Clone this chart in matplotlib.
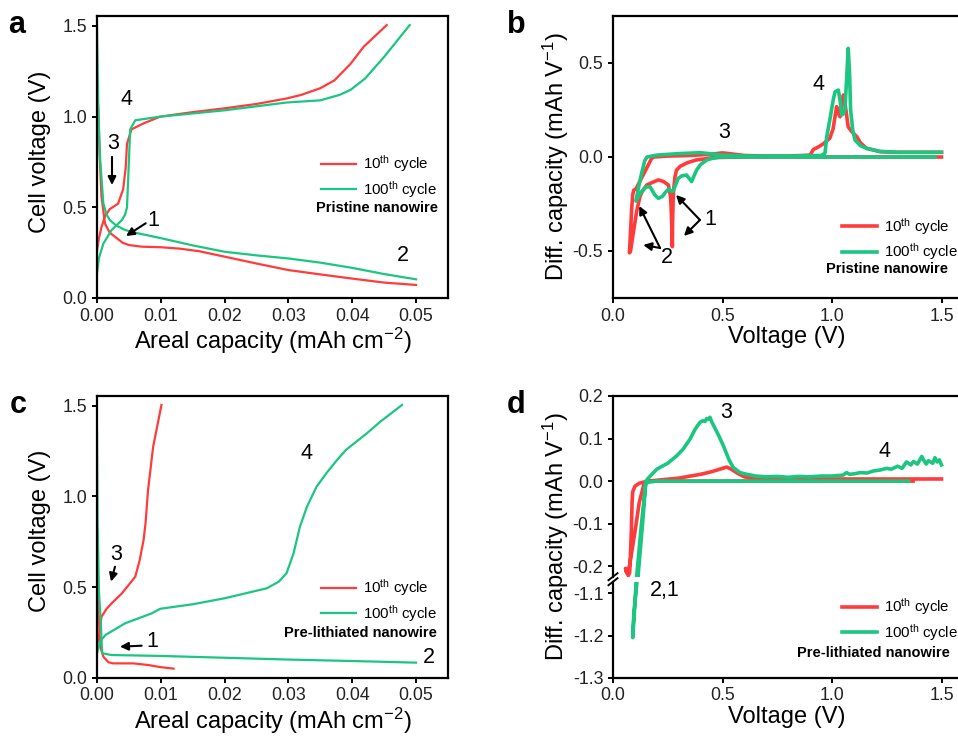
import matplotlib
matplotlib.use("Agg")
import matplotlib.pyplot as plt

plt.rcParams['font.family'] = ['Liberation Sans', 'DejaVu Sans']
plt.rcParams['mathtext.fontset'] = 'custom'
plt.rcParams['mathtext.rm'] = 'Liberation Sans'
plt.rcParams['mathtext.it'] = 'Liberation Sans:italic'
plt.rcParams['mathtext.bf'] = 'Liberation Sans:bold'
plt.rcParams['axes.unicode_minus'] = False

RED = '#FF3B3B'
GREEN = '#1BC680'

# ---------------- Panel a (pristine, voltage profiles) ----------------
a_red_dis_x = [0, 0.0002, 0.0004, 0.0007, 0.00125, 0.002, 0.0028, 0.004, 0.005, 0.007, 0.01, 0.013,
               0.016, 0.02, 0.025, 0.03, 0.035, 0.04, 0.045, 0.05]
a_red_dis_y = [1.17, 1.04, 0.80, 0.56, 0.41, 0.36, 0.338, 0.305, 0.292, 0.283, 0.28, 0.272,
               0.258, 0.228, 0.19, 0.154, 0.13, 0.107, 0.085, 0.072]
a_red_chg_x = [0, 0.0003, 0.0007, 0.00125, 0.002, 0.0033, 0.0041, 0.0045, 0.0047, 0.0054, 0.0073,
               0.0099, 0.015, 0.02, 0.025, 0.0297, 0.032, 0.035, 0.0372, 0.0397, 0.0418, 0.0454]
a_red_chg_y = [0.26, 0.33, 0.39, 0.45, 0.49, 0.52, 0.60, 0.72, 0.85, 0.93, 0.963,
               1.0, 1.025, 1.046, 1.07, 1.10, 1.12, 1.157, 1.20, 1.29, 1.386, 1.505]
a_grn_dis_x = [0, 0.0002, 0.0005, 0.001, 0.0015, 0.002, 0.003, 0.0044, 0.006, 0.008, 0.01, 0.015,
               0.02, 0.025, 0.03, 0.035, 0.04, 0.045, 0.05]
a_grn_dis_y = [1.49, 1.04, 0.76, 0.52, 0.46, 0.43, 0.40, 0.375, 0.36, 0.345, 0.33, 0.29,
               0.255, 0.235, 0.218, 0.195, 0.166, 0.132, 0.103]
a_grn_chg_x = [0, 0.0003, 0.001, 0.0023, 0.0039, 0.0044, 0.0047, 0.0049, 0.0052, 0.006, 0.0099,
               0.02, 0.0297, 0.035, 0.038, 0.0397, 0.042, 0.045, 0.049]
a_grn_chg_y = [0.136, 0.22, 0.30, 0.375, 0.43, 0.46, 0.50, 0.67, 0.93, 0.98, 1.0,
               1.035, 1.078, 1.09, 1.12, 1.147, 1.21, 1.33, 1.505]

# ---------------- Panel c (pre-lithiated, voltage profiles) ----------------
c_red_dis_x = [0, 0.0002, 0.0005, 0.001, 0.0018, 0.0025, 0.0057, 0.008, 0.01, 0.012]
c_red_dis_y = [0.557, 0.40, 0.171, 0.116, 0.085, 0.079, 0.079, 0.07, 0.058, 0.05]
c_red_chg_x = [0, 0.0002, 0.0007, 0.0015, 0.0023, 0.0039, 0.006, 0.0067, 0.0073, 0.0076, 0.0080,
               0.0088, 0.0094, 0.0101]
c_red_chg_y = [0.18, 0.21, 0.336, 0.38, 0.41, 0.465, 0.557, 0.65, 0.76, 0.85, 1.035,
               1.274, 1.38, 1.504]
c_grn_dis_x = [0, 0.0001, 0.0003, 0.0006, 0.0008, 0.0015, 0.0023, 0.01, 0.02, 0.03, 0.04, 0.05]
c_grn_dis_y = [1.357, 0.85, 0.48, 0.30, 0.135, 0.13, 0.125, 0.12, 0.11, 0.10, 0.092, 0.083]
c_grn_chg_x = [0, 0.0005, 0.0013, 0.0044, 0.0086, 0.0099, 0.015, 0.02, 0.0266, 0.0285, 0.0297,
               0.0308, 0.0318, 0.0329, 0.0344, 0.0360, 0.0376, 0.039, 0.0423, 0.0444, 0.0478]
c_grn_chg_y = [0.135, 0.2, 0.235, 0.30, 0.355, 0.38, 0.405, 0.438, 0.493, 0.53, 0.576,
               0.686, 0.833, 0.943, 1.053, 1.13, 1.20, 1.256, 1.348, 1.412, 1.504]

# ---------------- Panel b (pristine, dQ/dV) ----------------
b_red_v = [1.5, 1.0, 0.6, 0.46, 0.42, 0.38, 0.34, 0.306, 0.29, 0.283, 0.278, 0.275, 0.272, 0.271,
           0.268, 0.265, 0.263, 0.253, 0.23, 0.207, 0.18, 0.154, 0.135, 0.123, 0.108, 0.093, 0.08,
           0.075, 0.08, 0.085, 0.09, 0.095, 0.105, 0.12, 0.14, 0.16, 0.175, 0.185, 0.25, 0.35,
           0.45, 0.5, 0.53, 0.6, 0.7, 0.8, 0.9, 0.915, 0.94, 0.96, 0.99, 1.005, 1.021, 1.03,
           1.037, 1.045, 1.052, 1.06, 1.074, 1.09, 1.113, 1.13, 1.158, 1.22, 1.3, 1.4, 1.5]
b_red_q = [0.0, 0.0, 0.0, -0.003, -0.01, -0.016, -0.03, -0.05, -0.07, -0.105, -0.16, -0.21, -0.35,
           -0.477, -0.35, -0.26, -0.21, -0.149, -0.13, -0.122, -0.135, -0.149, -0.18, -0.21, -0.29,
           -0.40, -0.50, -0.51, -0.40, -0.28, -0.2, -0.176, -0.17, -0.135, -0.09, -0.045, -0.01,
           0.0, 0.005, 0.008, 0.015, 0.022, 0.018, 0.008, 0.005, 0.005, 0.01, 0.04, 0.055, 0.07,
           0.1, 0.15, 0.268, 0.23, 0.214, 0.28, 0.33, 0.28, 0.16, 0.135, 0.108, 0.075, 0.046,
           0.028, 0.025, 0.025, 0.025]
b_grn_v = [1.47, 1.0, 0.6, 0.49, 0.45, 0.428, 0.40, 0.382, 0.37, 0.359, 0.345, 0.336, 0.315,
           0.298, 0.285, 0.275, 0.268, 0.255, 0.245, 0.225, 0.207, 0.19, 0.169, 0.15, 0.138, 0.12,
           0.105, 0.115, 0.13, 0.145, 0.155, 0.2, 0.3, 0.4, 0.5, 0.6, 0.8, 0.95, 0.968, 0.976,
           0.99, 1.005, 1.014, 1.029, 1.037, 1.044, 1.052, 1.059, 1.066, 1.074, 1.08, 1.085,
           1.095, 1.105, 1.13, 1.158, 1.22, 1.3, 1.4, 1.5]
b_grn_q = [0.0, 0.0, 0.0, 0.0, -0.008, -0.016, -0.04, -0.069, -0.1, -0.131, -0.11, -0.096, -0.1,
           -0.113, -0.15, -0.18, -0.184, -0.17, -0.18, -0.21, -0.22, -0.2, -0.158, -0.16, -0.176,
           -0.2, -0.235, -0.17, -0.09, -0.02, 0.0, 0.01, 0.018, 0.023, 0.01, 0.005, 0.005, 0.008,
           0.02, 0.108, 0.197, 0.3, 0.347, 0.356, 0.3, 0.223, 0.23, 0.25, 0.4, 0.578, 0.45, 0.25,
           0.14, 0.09, 0.06, 0.046, 0.03, 0.025, 0.025, 0.025]

# ---------------- Panel d (pre-lithiated, dQ/dV) ----------------
d_red_v = [1.37, 1.0, 0.5, 0.2, 0.15, 0.12, 0.1, 0.09, 0.087, 0.084, 0.08, 0.076, 0.07, 0.063,
           0.057, 0.062, 0.075, 0.1, 0.12, 0.14, 0.16, 0.2, 0.3, 0.4, 0.45, 0.5, 0.52, 0.54,
           0.57, 0.6, 0.65, 0.8, 1.0, 1.5]
d_red_q = [0.0, 0.0, 0.0, 0.0, -0.001, -0.005, -0.012, -0.025, -0.05, -0.114, -0.17, -0.215,
           -0.222, -0.215, -0.205, -0.215, -0.2, -0.12, -0.05, -0.01, 0.0, 0.002, 0.007, 0.016,
           0.022, 0.03, 0.033, 0.028, 0.018, 0.01, 0.006, 0.005, 0.005, 0.005]
d_grn_v = [1.35, 1.0, 0.5, 0.2, 0.15, 0.13, 0.108, 0.105, 0.09, 0.095, 0.11, 0.115, 0.135, 0.15,
           0.17, 0.2, 0.25, 0.29, 0.32, 0.352, 0.375, 0.397, 0.41, 0.42, 0.428, 0.435, 0.443,
           0.45, 0.46, 0.48, 0.504, 0.53, 0.549, 0.58, 0.61, 0.65, 0.7, 0.75, 0.8, 0.85, 0.9,
           0.95, 1.0, 1.05, 1.067, 1.08, 1.1, 1.13, 1.16, 1.19, 1.219, 1.25, 1.27, 1.3, 1.32,
           1.34, 1.36, 1.372, 1.39, 1.41, 1.418, 1.43, 1.44, 1.46, 1.47, 1.48, 1.49, 1.5]
d_grn_q = [0.0, 0.0, 0.0, 0.0, -0.003, -0.1, -0.225, -1.08, -1.205, -1.15, -1.07, -0.22, -0.1,
           0.0, 0.012, 0.028, 0.042, 0.059, 0.075, 0.099, 0.122, 0.138, 0.142, 0.14, 0.147, 0.145,
           0.15, 0.14, 0.13, 0.11, 0.083, 0.05, 0.032, 0.02, 0.016, 0.012, 0.01, 0.011, 0.009,
           0.011, 0.01, 0.012, 0.012, 0.014, 0.02, 0.016, 0.017, 0.02, 0.019, 0.024, 0.026, 0.03,
           0.028, 0.035, 0.03, 0.045, 0.038, 0.046, 0.04, 0.058, 0.05, 0.04, 0.048, 0.042, 0.055,
           0.045, 0.05, 0.038]

leg_labels = [r'10$^{\mathrm{th}}$ cycle', r'100$^{\mathrm{th}}$ cycle']

W, H = 958, 737
fig = plt.figure(figsize=(W / 100, H / 100), dpi=100)


def rect(l, t, r, b):
    return [l / W, 1 - b / H, (r - l) / W, (b - t) / H]


TICK_FS = 12.8
LAB_FS = 17
ANN_FS = 15.5


def style(ax, left=True, bottom=True):
    for s in ax.spines.values():
        s.set_linewidth(1.6)
    ax.tick_params(direction='out', length=3.5, width=1.4, labelsize=TICK_FS, pad=3.5,
                   top=False, right=False, left=left, bottom=bottom, labelcolor='#222222')


def arrow(ax, tail, head):
    ax.annotate('', xy=head, xytext=tail,
                arrowprops=dict(arrowstyle='-|>', lw=1.5, color='k', mutation_scale=12,
                                shrinkA=0, shrinkB=0))


# ---- a ----
axa = fig.add_axes(rect(97, 16, 448, 298))
axa.plot(a_red_dis_x, a_red_dis_y, color=RED, lw=1.6)
la1, = axa.plot(a_red_chg_x, a_red_chg_y, color=RED, lw=1.6)
axa.plot(a_grn_dis_x, a_grn_dis_y, color=GREEN, lw=1.6)
la2, = axa.plot(a_grn_chg_x, a_grn_chg_y, color=GREEN, lw=1.6)
axa.set_xlim(0, 0.055)
axa.set_ylim(0, 1.555)
axa.set_xticks([0, 0.01, 0.02, 0.03, 0.04, 0.05])
axa.set_xticklabels(['0.00', '0.01', '0.02', '0.03', '0.04', '0.05'])
axa.set_yticks([0, 0.5, 1.0, 1.5])
style(axa)

# ---- c ----
axc = fig.add_axes(rect(97, 395.7, 448, 677.7))
axc.plot(c_red_dis_x, c_red_dis_y, color=RED, lw=1.6)
lc1, = axc.plot(c_red_chg_x, c_red_chg_y, color=RED, lw=1.6)
axc.plot(c_grn_dis_x, c_grn_dis_y, color=GREEN, lw=1.6)
lc2, = axc.plot(c_grn_chg_x, c_grn_chg_y, color=GREEN, lw=1.6)
axc.set_xlim(0, 0.055)
axc.set_ylim(0, 1.555)
axc.set_xticks([0, 0.01, 0.02, 0.03, 0.04, 0.05])
axc.set_xticklabels(['0.00', '0.01', '0.02', '0.03', '0.04', '0.05'])
axc.set_yticks([0, 0.5, 1.0, 1.5])
style(axc)

for ax in (axa, axc):
    ax.set_ylabel('Cell voltage (V)', fontsize=LAB_FS)
    ax.yaxis.set_label_coords(-0.13, 0.52)
    ax.set_xlabel(r'Areal capacity (mAh cm$^{-2}$)', fontsize=LAB_FS)
    ax.xaxis.set_label_coords(0.5, -0.1)

# ---- b ----
axb = fig.add_axes(rect(613, 16, 963.4, 298))
lb1, = axb.plot(b_red_v, b_red_q, color=RED, lw=2.6)
lb2, = axb.plot(b_grn_v, b_grn_q, color=GREEN, lw=2.6)
axb.set_xlim(0, 1.6)
axb.set_ylim(-0.75, 0.75)
axb.set_xticks([0, 0.5, 1.0, 1.5])
axb.set_yticks([-0.5, 0.0, 0.5])
style(axb)
axb.set_ylabel(r'Diff. capacity (mAh V$^{-1}$)', fontsize=LAB_FS)
axb.yaxis.set_label_coords(-0.12, 0.5)
axb.set_xlabel('Voltage (V)', fontsize=LAB_FS)
axb.xaxis.set_label_coords(0.497, -0.1)

# ---- d (broken y axis) ----
axd = fig.add_axes(rect(613, 396, 963.4, 576.7))
axd2 = fig.add_axes(rect(613, 581.7, 963.4, 677.7))
for ax in (axd, axd2):
    ld1, = ax.plot(d_red_v, d_red_q, color=RED, lw=2.6)
    ld2, = ax.plot(d_grn_v, d_grn_q, color=GREEN, lw=2.6)
    ax.set_xlim(0, 1.6)
axd.set_ylim(-0.2246, 0.2)
axd2.set_ylim(-1.3, -1.0725)
axd.set_yticks([-0.2, -0.1, 0.0, 0.1, 0.2])
axd2.set_yticks([-1.3, -1.2, -1.1])
axd2.set_xticks([0, 0.5, 1.0, 1.5])
style(axd, bottom=False)
axd.tick_params(labelbottom=False)
style(axd2)
axd.spines['bottom'].set_visible(False)
axd2.spines['top'].set_visible(False)
axd.set_ylabel(r'Diff. capacity (mAh V$^{-1}$)', fontsize=LAB_FS)
axd.yaxis.set_label_coords(-0.12, 0.22)
axd2.set_xlabel('Voltage (V)', fontsize=LAB_FS)
axd2.xaxis.set_label_coords(0.497, -0.295)
# break marks
for ax, yc, h in ((axd, 0.0, 180.7), (axd2, 1.0, 96.0)):
    dx = 4.5 / 350.4
    dy = 3.5 / h
    ax.plot([-dx, dx], [yc - dy, yc + dy], transform=ax.transAxes, color='k', lw=1.4,
            clip_on=False)

# ---- legends and notes ----
leg_kw = dict(fontsize=10.8, frameon=False, loc='center left', borderpad=0, borderaxespad=0,
              handlelength=2.35, handletextpad=0.45, labelspacing=0.3)
axa.legend([la1, la2], leg_labels, bbox_to_anchor=(0.638, 0.431), **leg_kw)
axc.legend([lc1, lc2], leg_labels, bbox_to_anchor=(0.638, 0.274), **leg_kw)
axb.legend([lb1, lb2], leg_labels, bbox_to_anchor=(0.6527, 0.209), **leg_kw)
axd2.legend([ld1, ld2], leg_labels, bbox_to_anchor=(0.6527, 0.604), **leg_kw)

axa.text(0.9715, 0.319, 'Pristine nanowire', transform=axa.transAxes, ha='right', va='center',
         fontsize=10.5, fontweight='bold')
axc.text(0.9687, 0.16, 'Pre-lithiated nanowire', transform=axc.transAxes, ha='right',
         va='center', fontsize=10.5, fontweight='bold')
axb.text(0.956, 0.103, 'Pristine nanowire', transform=axb.transAxes, ha='right', va='center',
         fontsize=10.5, fontweight='bold')
axd2.text(0.962, 0.257, 'Pre-lithiated nanowire', transform=axd2.transAxes, ha='right',
          va='center', fontsize=10.5, fontweight='bold')

# ---- number annotations ----
ann = dict(fontsize=ANN_FS, ha='center', va='center')
axa.text(0.00455, 1.092, '4', **ann)
axa.text(0.0025, 0.85, '3', **ann)
arrow(axa, (0.00235, 0.778), (0.00235, 0.623))
axa.text(0.0088, 0.43, '1', **ann)
arrow(axa, (0.00763, 0.412), (0.00455, 0.342))
axa.text(0.048, 0.237, '2', **ann)

axc.text(0.0329, 1.239, '4', **ann)
axc.text(0.003, 0.682, '3', **ann)
arrow(axc, (0.00282, 0.612), (0.0022, 0.53))
axc.text(0.0086, 0.197, '1', **ann)
arrow(axc, (0.007, 0.1765), (0.0036, 0.171))
axc.text(0.052, 0.109, '2', **ann)

axb.text(0.94, 0.383, '4', **ann)
axb.text(0.507, 0.128, '3', **ann)
axb.text(0.443, -0.335, '1', **ann)
arrow(axb, (0.397, -0.335), (0.288, -0.202))
arrow(axb, (0.397, -0.335), (0.324, -0.42))
axb.text(0.245, -0.532, '2', **ann)
arrow(axb, (0.215, -0.484), (0.12, -0.261))
arrow(axb, (0.215, -0.484), (0.138, -0.468))

axd.text(0.519, 0.162, '3', **ann)
axd.text(1.242, 0.0686, '4', **ann)
axd2.text(0.237, -1.094, '2,1', clip_on=False, **ann)

# ---- panel letters ----
for lab, x, y in (('a', 8, 33), ('b', 507, 33), ('c', 10, 413), ('d', 507, 413)):
    fig.text(x / W, 1 - y / H, lab, fontsize=22, fontweight='bold', va='baseline', ha='left')

fig.savefig('out.png', dpi=100)
